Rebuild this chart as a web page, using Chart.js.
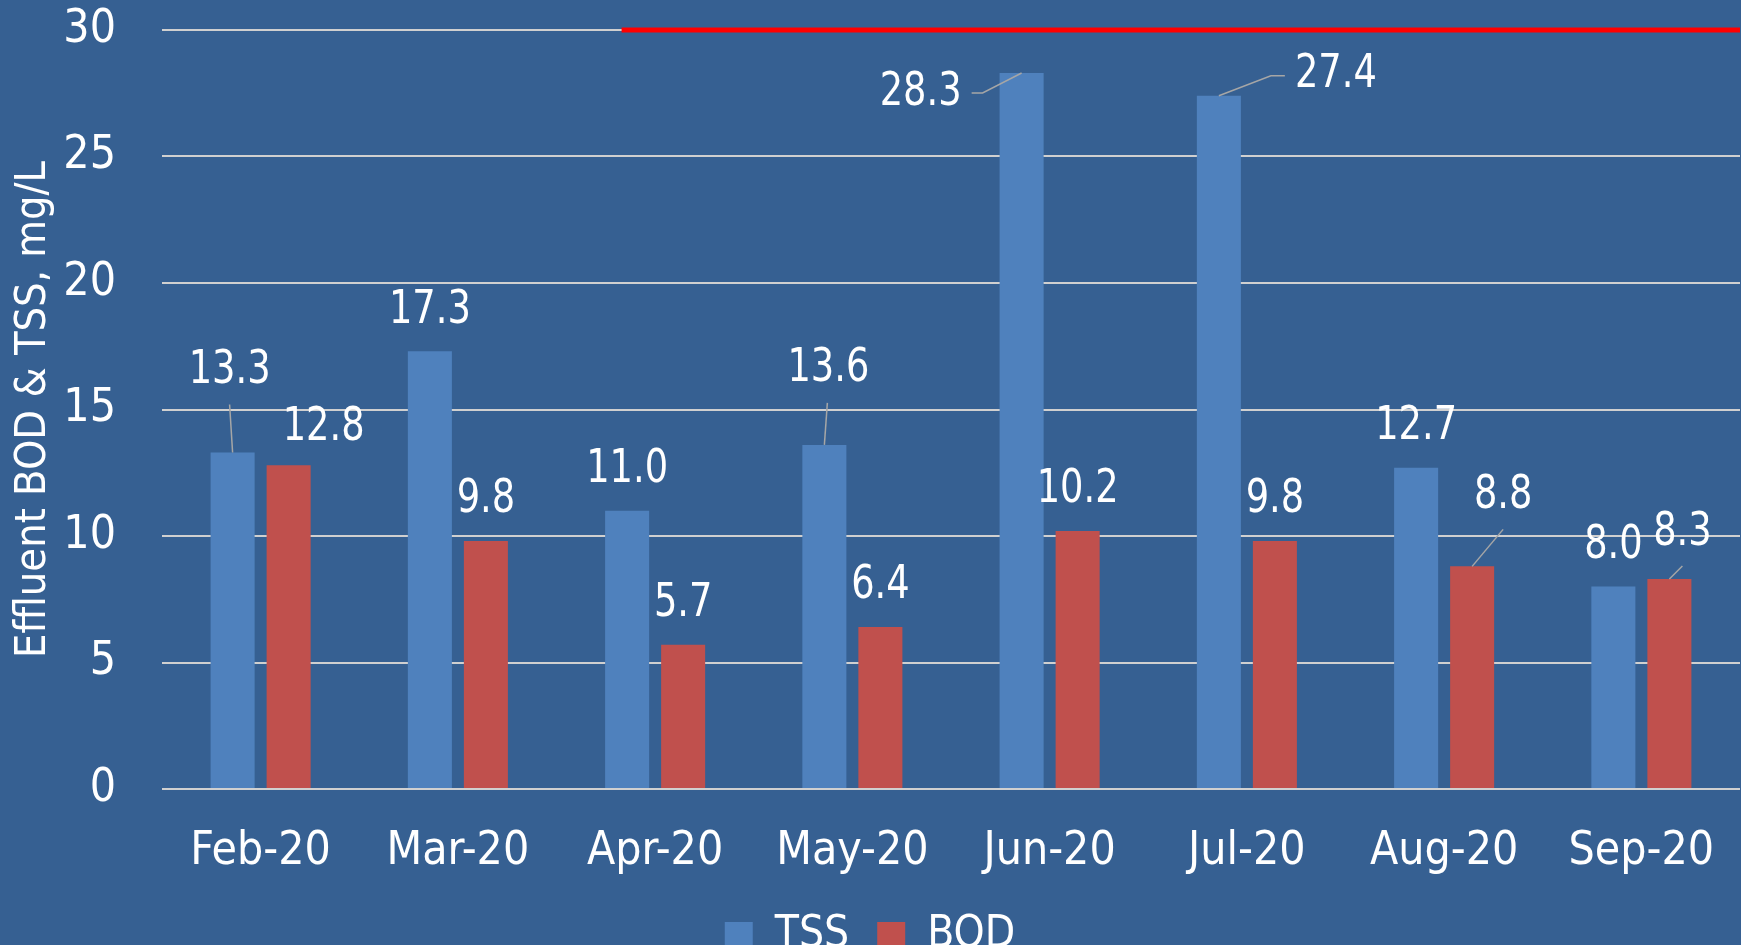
<!DOCTYPE html>
<html>
<head>
<meta charset="utf-8">
<script src="https://cdn.jsdelivr.net/npm/chart.js@4.4.1/dist/chart.umd.min.js"></script>
<style>
  html, body { margin: 0; padding: 0; background: #366092; overflow: hidden; }
  #wrap { position: relative; width: 1741px; height: 968px; }
</style>
</head>
<body>
<div id="wrap"><canvas id="myChart"></canvas></div>
<script>
// data
const months = ['Feb-20', 'Mar-20', 'Apr-20', 'May-20', 'Jun-20', 'Jul-20', 'Aug-20', 'Sep-20'];
const tssValues = [13.3, 17.3, 11.0, 13.6, 28.3, 27.4, 12.7, 8.0];
const bodValues = [12.8, 9.8, 5.7, 6.4, 10.2, 9.8, 8.8, 8.3];
const limitValue = 30;
const limitFrom = 1.83;   // category position where the red limit line starts
const limitTo = 7.5;

// label placement (px offset of label centre from bar top), null = default
const tssLabelShift = [[-3, -82], null, null, [4, -76], [-101, 20], [117, -21], null, null];
const bodLabelShift = [[35, -37], null, null, null, null, null, [31, -71], [13, -46]];
// leader lines (px offsets from bar top)
const tssLeaders = [[[-3, -48], [0, 0]], null, null, [[3, -42], [0, 0]], [[-50, 20], [-39, 20], [0, 0]], [[0, 0], [52, -20], [66, -20]], null, null];
const bodLeaders = [null, null, null, null, null, null, [[31, -37], [0, 0]], [[13, -13], [0, 0]]];

const FONT = "'DejaVu Sans Condensed', 'Liberation Sans Narrow', 'Liberation Sans', sans-serif";
Chart.defaults.font.family = FONT;
Chart.defaults.font.size = 46;
Chart.defaults.color = '#ffffff';

// red limit line, placed with the chart's own scales
const limitLine = {
    id: 'limitLine',
    beforeDatasetsDraw(chart) {
        const {ctx, scales} = chart;
        const y = scales.y.getPixelForValue(limitValue);
        ctx.save();
        ctx.strokeStyle = '#ff0000';
        ctx.lineWidth = 5;
        ctx.beginPath();
        ctx.moveTo(scales.x.getPixelForValue(limitFrom), y);
        ctx.lineTo(scales.x.getPixelForValue(limitTo), y);
        ctx.stroke();
        ctx.restore();
    }
};

const valueLabels = {
    id: 'valueLabels',
    afterDatasetsDraw(chart) {
        const ctx = chart.ctx;
        ctx.save();
        ctx.font = '47px ' + FONT;
        ctx.textAlign = 'center';
        ctx.textBaseline = 'middle';
        chart.data.datasets.forEach((ds, i) => {
            if (!ds.labelShift) return;
            const meta = chart.getDatasetMeta(i);
            meta.data.forEach((bar, j) => {
                const shift = ds.labelShift[j] || [0, -41];
                const lead = ds.leaders[j];
                if (lead) {
                    ctx.strokeStyle = '#a6a6a6';
                    ctx.lineWidth = 1.5;
                    ctx.beginPath();
                    lead.forEach((p, k) => {
                        if (k === 0) ctx.moveTo(bar.x + p[0], bar.y + p[1]);
                        else ctx.lineTo(bar.x + p[0], bar.y + p[1]);
                    });
                    ctx.stroke();
                }
                ctx.save();
                ctx.translate(bar.x + shift[0], bar.y + shift[1]);
                ctx.scale(0.87, 1);
                ctx.fillStyle = '#ffffff';
                ctx.fillText(ds.data[j].toFixed(1), 0, 0);
                ctx.restore();
            });
        });
        ctx.restore();
    }
};

const ctx = document.getElementById('myChart');
const chart = new Chart(ctx, {
    type: 'bar',
    data: {
        labels: months,
        datasets: [
            {
                label: 'TSS',
                data: tssValues,
                backgroundColor: '#4f81bd',
                labelShift: tssLabelShift,
                leaders: tssLeaders
            },
            {
                label: 'BOD',
                data: bodValues,
                backgroundColor: '#c0504d',
                labelShift: bodLabelShift,
                leaders: bodLeaders
            }
        ]
    },
    options: {
        responsive: true,
        maintainAspectRatio: false,
        animation: false,
        categoryPercentage: 0.568,
        barPercentage: 0.786,
        layout: {
            padding: {top: 30, right: 1, bottom: 0, left: 0}
        },
        plugins: {
            legend: {
                position: 'bottom',
                labels: {
                    boxWidth: 28,
                    boxHeight: 28,
                    padding: 28,
                    color: '#ffffff',
                    font: {size: 44}
                }
            },
            tooltip: {enabled: false}
        },
        scales: {
            x: {
                grid: {display: false, drawTicks: false},
                border: {display: false},
                ticks: {padding: 35, color: '#ffffff', font: {size: 46}},
                afterFit: s => { s.height = 97; s.paddingLeft = 0; s.paddingRight = 0; }
            },
            y: {
                min: 0,
                max: 30,
                border: {display: false},
                grid: {color: '#d0d0d0', lineWidth: 2, drawTicks: false},
                ticks: {stepSize: 5, padding: 46, color: '#ffffff', font: {size: 46}},
                title: {
                    display: true,
                    text: 'Effluent BOD & TSS, mg/L',
                    color: '#ffffff',
                    font: {size: 43},
                    padding: {top: 8, bottom: 8}
                },
                afterFit: s => { s.width = 162; s.paddingTop = 0; s.paddingBottom = 0; }
            }
        }
    },
    plugins: [limitLine, valueLabels]
});
</script>
</body>
</html>
